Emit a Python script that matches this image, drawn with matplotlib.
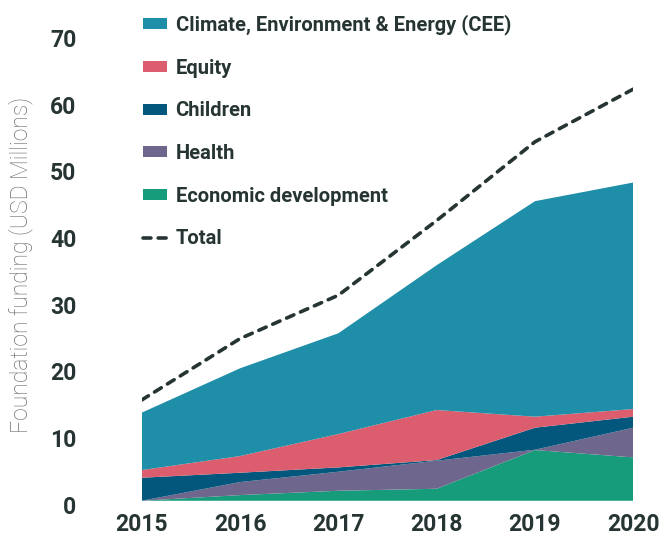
import matplotlib.pyplot as plt
import matplotlib.transforms as mtransforms
import numpy as np

years = [2015, 2016, 2017, 2018, 2019, 2020]
economic = [0.0, 0.85, 1.5, 1.8, 7.6, 6.5]
health = [0.0, 1.95, 2.85, 4.2, 0.05, 4.45]
children = [3.45, 1.4, 0.65, 0.1, 3.3, 1.65]
equity = [1.15, 2.5, 5.0, 7.5, 1.65, 1.15]
cee = [8.6, 13.15, 15.1, 21.7, 32.3, 33.95]
total = [15.1, 24.3, 30.8, 42.0, 53.8, 61.7]

labels = ["Economic development", "Health", "Children", "Equity",
          "Climate, Environment & Energy (CEE)"]
colors = ["#169c7b", "#6e668c", "#03577d", "#dc5d6e", "#1f8ea8"]
dark = "#263533"

plt.rcParams['font.family'] = ['Roboto', 'DejaVu Sans']

fig = plt.figure(figsize=(6.59, 5.35), dpi=100)
ax = fig.add_axes([0.215, 0.064, 0.746, 0.873])

polys = ax.stackplot(years, economic, health, children, equity, cee,
                     colors=colors, labels=labels, linewidth=0)
line, = ax.plot(years, total, color=dark, lw=2.6, linestyle=(0, (2.2, 2.0)),
                dash_capstyle='round', label="Total")

ax.set_xlim(2015, 2020)
ax.set_ylim(0, 70)
ax.set_xticks(years)
ax.set_yticks(range(0, 71, 10))
for s in ax.spines.values():
    s.set_visible(False)
ax.tick_params(axis='both', length=0, labelsize=16.5, labelcolor=dark)
ax.tick_params(axis='y', pad=47)
ax.tick_params(axis='x', pad=9)
for t in ax.get_xticklabels() + ax.get_yticklabels():
    t.set_fontweight('bold')
# labels in the original sit a little below their value
shift = mtransforms.ScaledTranslation(0, -3 / 72, fig.dpi_scale_trans)
for t in ax.get_yticklabels():
    t.set_transform(t.get_transform() + shift)

ax.set_ylabel("Foundation funding (USD Millions)", fontsize=16.5, color="#6e6e6e",
              fontweight='light')
ax.yaxis.set_label_coords(-0.222, 0.505)

handles = list(reversed(polys)) + [line]
leg = ax.legend(handles, [h.get_label() for h in handles], loc='upper left',
                bbox_to_anchor=(-0.013, 1.058), frameon=False,
                prop={'weight': 'bold', 'size': 14.5}, labelcolor=dark,
                handlelength=1.15, handleheight=0.45, handletextpad=0.45,
                labelspacing=1.17, borderaxespad=0)

fig.savefig("out.png", dpi=100)
